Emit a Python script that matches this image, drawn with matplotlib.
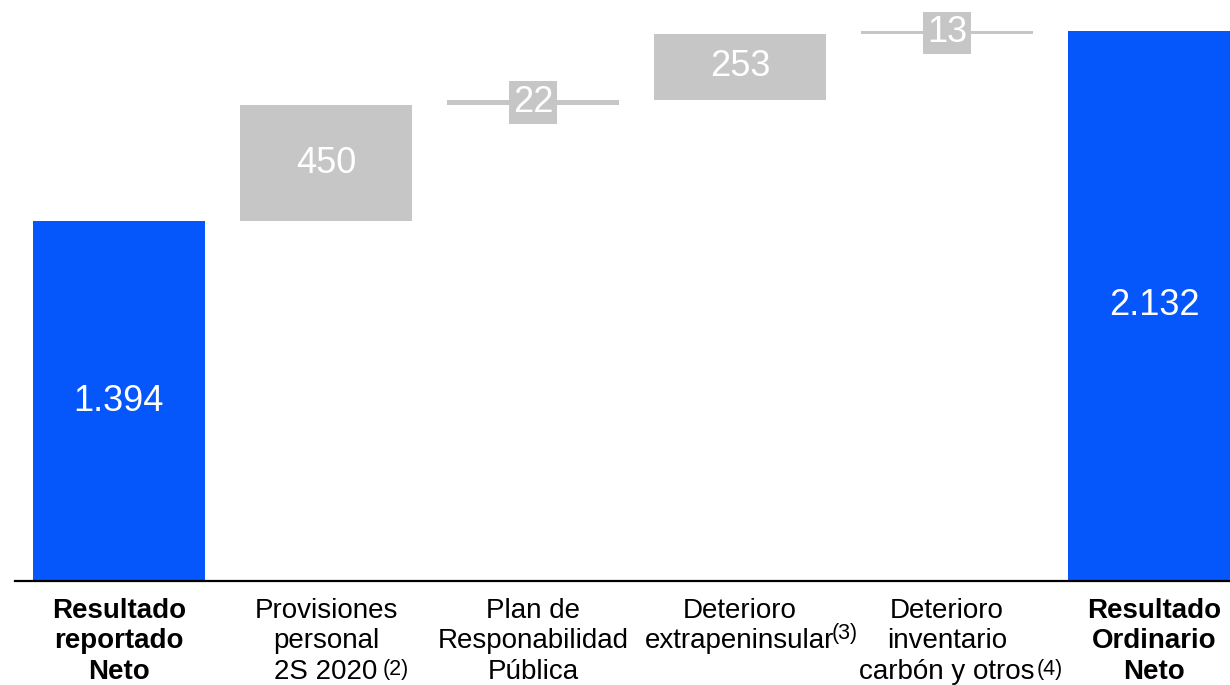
import matplotlib
matplotlib.use('Agg')
import matplotlib.pyplot as plt
import numpy as np

plt.rcParams['font.family'] = ['Liberation Sans', 'DejaVu Sans']

# datos del puente (millones de euros)
categories = ['Resultado\nreportado\nNeto',
              'Provisiones\npersonal\n2S 2020',
              'Plan de\nResponabilidad\nPública',
              'Deterioro\nextrapeninsular',
              'Deterioro\ninventario\ncarbón y otros',
              'Resultado\nOrdinario\nNeto']
notes = ['', '(2)', '', '(3)', '(4)', '']
values = [1394, 450, 22, 253, 13, 2132]
value_labels = ['1.394', '450', '22', '253', '13', '2.132']
is_total = [True, False, False, False, False, True]

BLUE = '#0657FB'
GRAY = '#C6C6C6'

# bases de las barras de la cascada
bottoms = []
running = 0
for v, tot in zip(values, is_total):
    if tot:
        bottoms.append(0)
        running = v
    else:
        bottoms.append(running)
        running += v

fig = plt.figure(figsize=(12.3, 6.85), dpi=100)
ax = fig.add_axes([15 / 1230, 104 / 685, 1215 / 1230, 581 / 685])

x = np.arange(len(values))
colors = [BLUE if t else GRAY for t in is_total]
ax.bar(x, values, bottom=bottoms, width=0.83, color=colors, zorder=2)

ax.set_xlim(-0.502, 5.367)
ax.set_ylim(0, 2252)

for i, (v, b, lab) in enumerate(zip(values, bottoms, value_labels)):
    small = v < 100
    ax.text(i, b + v / 2, lab, ha='center', va='center', color='white',
            fontsize=26, zorder=3,
            bbox=dict(boxstyle='square,pad=0.1', fc=GRAY, ec='none') if small else None)

# etiquetas del eje x, línea a línea
sup_offsets = {'(2)': (5, 5), '(3)': (-3, 11), '(4)': (2, 5)}
for i, (cat, note, tot) in enumerate(zip(categories, notes, is_total)):
    lines = cat.split('\n')
    last = None
    for k, line in enumerate(lines):
        t = ax.annotate(line, xy=(i, 0), xycoords='data',
                        xytext=(0, -(37 + 30.5 * k)), textcoords='offset pixels',
                        ha='center', va='baseline', fontsize=20,
                        fontweight='bold' if tot else 'normal', color='black',
                        annotation_clip=False)
        if note == '(3)' and k == 1:
            last = t
        elif note and note != '(3)' and k == len(lines) - 1:
            last = t
    if note:
        dx, dy = sup_offsets[note]
        ax.annotate(note, xy=(1, 0), xycoords=last, xytext=(dx, dy),
                    textcoords='offset pixels', ha='left', va='bottom',
                    fontsize=15.5, color='black', annotation_clip=False)

for side in ('left', 'right', 'top'):
    ax.spines[side].set_visible(False)
ax.spines['bottom'].set_linewidth(1.6)
ax.spines['bottom'].set_color('black')
ax.spines['bottom'].set_zorder(4)
ax.set_xticks([])
ax.set_yticks([])

fig.savefig('out.png', dpi=100)
